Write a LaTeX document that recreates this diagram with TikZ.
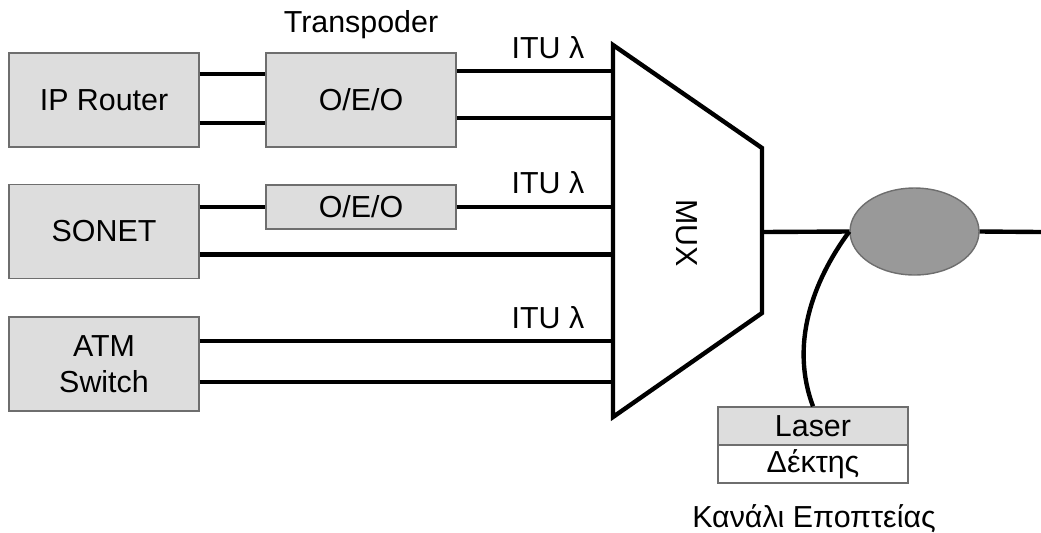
\documentclass[tikz,border=0pt]{standalone}
\usepackage{xcolor}
\usepackage{fontspec}
\setmainfont{Liberation Sans}
\usepackage{tikz}
\usetikzlibrary{calc}
\usetikzlibrary{shapes.geometric}
\definecolor{boxgray}{HTML}{DDDDDD}
\definecolor{edgegray}{HTML}{6E6E6E}
\definecolor{couplergray}{HTML}{999999}

\begin{document}
\begin{tikzpicture}[
x=0.02cm, y=-0.02cm,
Box/.style={draw=edgegray,fill=boxgray,line width=0.8pt,minimum width=3.8cm,minimum height=1.88cm,inner sep=0pt,align=center},
SmallBox/.style={Box,minimum height=0.88cm},
PanelBox/.style={Box,minimum height=0.76cm},
Fiber/.style={black,line width=2.5pt},
every node/.style={font=\fontsize{17.3}{20.5}\selectfont}
]
\useasboundingbox (0,0) rectangle (1041,532);

% client equipment
\node[Box] (router) at (104,100) {IP Router};
\node[Box] (sonet) at (104,231.5) {SONET};
\node[Box] (atm) at (104,364) {ATM\\Switch};

% transponders
\node[SmallBox,minimum height=1.88cm] (oeoA) at (361,100) {O/E/O};
\node[SmallBox] (oeoB) at (361,207) {O/E/O};
\node[anchor=base] (transp) at (361,32) {Transpoder};

% MUX corners
\pgfmathparse{613}		\let\Xl\pgfmathresult
\pgfmathparse{762}		\let\Xr\pgfmathresult
\coordinate (muxTL) at (\Xl,45);
\coordinate (muxTR) at (\Xr,148);
\coordinate (muxBR) at (\Xr,313);
\coordinate (muxBL) at (\Xl,417);
\coordinate (muxL) at (\Xl,232);
\coordinate (muxR) at (\Xr,232);

% fibres into the MUX
\draw[Fiber] ([yshift=0.52cm]router.east) -- ([yshift=0.52cm]router.east -| oeoA.west);
\draw[Fiber] ([yshift=-0.46cm]router.east) -- ([yshift=-0.46cm]router.east -| oeoA.west);
\draw[Fiber] ([yshift=0.58cm]oeoA.east) -- ([yshift=0.58cm]oeoA.east -| muxL);
\draw[Fiber] ([yshift=-0.36cm]oeoA.east) -- ([yshift=-0.36cm]oeoA.east -| muxL);

\draw[Fiber] (oeoB.west -| sonet.east) -- (oeoB.west);
\draw[Fiber] (oeoB.east) -- (oeoB.east -| muxL);
\draw[Fiber] ([yshift=-0.46cm]sonet.east) -- ([yshift=-0.46cm]sonet.east -| muxL);

\draw[Fiber] ([yshift=0.46cm]atm.east) -- ([yshift=0.46cm]atm.east -| muxL);
\draw[Fiber] ([yshift=-0.36cm]atm.east) -- ([yshift=-0.36cm]atm.east -| muxL);

\node[anchor=base] (ituA) at (548,58) {ITU λ};
\node[anchor=base] (ituB) at (548,193) {ITU λ};
\node[anchor=base] (ituC) at (548,328) {ITU λ};

% multiplexer
\draw[Fiber,fill=white] (muxTL) -- (muxTR) -- (muxBR) -- (muxBL) -- cycle;
\node[rotate=-90] (mux) at (687,233) {MUX};

% coupler and line out
\node[ellipse,draw=edgegray,fill=couplergray,line width=0.8pt,minimum width=2.58cm,minimum height=1.74cm,inner sep=0pt] (coupler) at (914.5,231.5) {};
\coordinate (lineOut) at (1041,232);
\draw[Fiber] (muxR) -- (coupler.west);
\draw[Fiber] (coupler.east) -- (lineOut);

% supervisory channel
\node[PanelBox] (laser) at (813,426) {Laser};
\node[PanelBox,fill=white] (rx) at (813,464) {Δέκτης};
\node[anchor=base] (supv) at (814,527) {Κανάλι Εποπτείας};
\draw[Fiber] (coupler.west) .. controls (812,282) and (790,345) .. (laser.north);

\end{tikzpicture}
\end{document}
